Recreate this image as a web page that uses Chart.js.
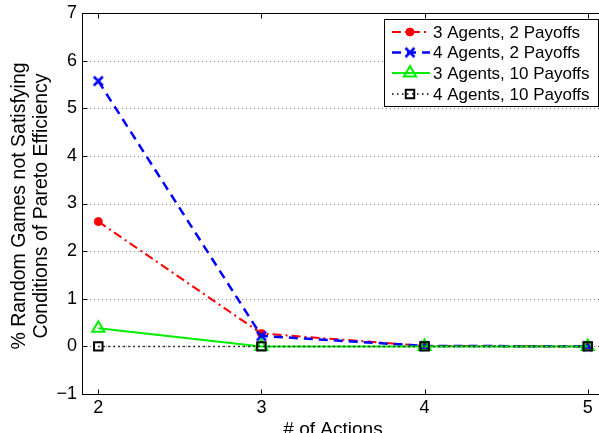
<!DOCTYPE html>
<html>
<head>
<meta charset="utf-8">
<script src="https://cdn.jsdelivr.net/npm/chart.js@4"></script>
<style>
  html, body { margin: 0; padding: 0; background: #fff; overflow: hidden; width: 599px; height: 433px; }
  #wrap { position: relative; width: 599px; height: 433px; overflow: hidden; }
  canvas { display: block; }
</style>
</head>
<body>
<div id="wrap"><canvas id="c" width="609" height="433"></canvas></div>
<script>
// Number of actions per player
const actions = [2, 3, 4, 5];
// % of random games not satisfying the Pareto-efficiency conditions
const agents3pay2  = [2.62, 0.27, 0.01, 0.0];
const agents4pay2  = [5.57, 0.22, 0.01, 0.0];
const agents3pay10 = [0.38, 0.0, 0.0, 0.0];
const agents4pay10 = [0.0, 0.0, 0.0, 0.0];
const seriesNames = ['3 Agents, 2 Payoffs', '4 Agents, 2 Payoffs', '3 Agents, 10 Payoffs', '4 Agents, 10 Payoffs'];
const yTicks = [-1, 0, 1, 2, 3, 4, 5, 6, 7];

const FONT = '"Liberation Sans", Arial, Helvetica, sans-serif';
// plot box runs past the right edge of the page
const PLOT_RIGHT = 604;

function pts(vals) { return actions.map((a, i) => ({ x: a, y: vals[i] })); }

// "x" marker glyph drawn onto a small canvas
function crossMarker(color) {
  const c = document.createElement('canvas'); c.width = 14; c.height = 14;
  const g = c.getContext('2d');
  g.strokeStyle = color; g.lineWidth = 2.6;
  g.beginPath(); g.moveTo(2.5, 2.5); g.lineTo(11.5, 11.5); g.moveTo(11.5, 2.5); g.lineTo(2.5, 11.5); g.stroke();
  return c;
}

const styles = [
  { color: '#ff0000', dash: [9, 4, 2, 4], width: 2, point: 'circle', radius: 4, fill: '#ff0000', pw: 1 },
  { color: '#0000ff', dash: [9, 6], width: 2.5, point: crossMarker('#0000ff'), radius: 6, fill: '#0000ff', pw: 1 },
  { color: '#00ee00', dash: [], width: 2, point: 'triangle', radius: 7, fill: 'rgba(0,0,0,0)', pw: 2 },
  { color: '#000000', dash: [1.5, 3.5], width: 1.5, point: 'rect', radius: 6, fill: 'rgba(0,0,0,0)', pw: 2 }
];
const seriesData = [agents3pay2, agents4pay2, agents3pay10, agents4pay10];

function makeDatasets() {
  return seriesData.map((vals, i) => ({
    label: seriesNames[i],
    data: pts(vals),
    borderColor: styles[i].color,
    backgroundColor: styles[i].fill,
    borderWidth: styles[i].width,
    borderDash: styles[i].dash,
    pointStyle: styles[i].point,
    pointRadius: styles[i].radius,
    pointBorderColor: styles[i].color,
    pointBackgroundColor: styles[i].fill,
    pointBorderWidth: styles[i].pw,
    tension: 0,
    fill: false,
    order: 4 - i
  }));
}

// Frame, dotted grid, inward ticks, axis titles and the legend box
const framePlugin = {
  id: 'frame',
  beforeDatasetsDraw(chart) {
    const { ctx, chartArea: a, scales: { y } } = chart;
    ctx.save();
    ctx.strokeStyle = '#888';
    ctx.lineWidth = 1;
    ctx.setLineDash([1, 3]);
    yTicks.forEach(v => {
      if (v === -1 || v === 7) return;
      const py = Math.round(y.getPixelForValue(v)) + 0.5;
      ctx.beginPath(); ctx.moveTo(a.left, py); ctx.lineTo(a.right, py); ctx.stroke();
    });
    ctx.restore();
  },
  afterDatasetsDraw(chart) {
    const { ctx, chartArea: a, scales: { x, y } } = chart;
    ctx.save();
    ctx.strokeStyle = '#000';
    ctx.lineWidth = 1;
    ctx.setLineDash([]);
    const L = Math.round(a.left) + 0.5, R = Math.round(a.right) - 0.5;
    const T = Math.round(a.top) + 0.5, B = Math.round(a.bottom) + 0.5;
    ctx.strokeRect(L, T, R - L, B - T);
    const tl = 5;
    ctx.beginPath();
    yTicks.forEach(v => {
      const py = Math.round(y.getPixelForValue(v)) + 0.5;
      ctx.moveTo(L, py); ctx.lineTo(L + tl, py);
      ctx.moveTo(R, py); ctx.lineTo(R - tl, py);
    });
    actions.forEach(v => {
      const px = Math.round(x.getPixelForValue(v)) + 0.5;
      ctx.moveTo(px, T); ctx.lineTo(px, T + tl);
      ctx.moveTo(px, B); ctx.lineTo(px, B - tl);
    });
    ctx.stroke();

    // axis titles
    ctx.fillStyle = '#000';
    ctx.font = '19px ' + FONT;
    ctx.textAlign = 'center';
    ctx.textBaseline = 'middle';
    ctx.fillText('# of Actions', 333, 430);
    ctx.save();
    ctx.translate(20, 206);
    ctx.rotate(-Math.PI / 2);
    ctx.font = '19.5px ' + FONT;
    ctx.fillText('% Random Games not Satisfying', 0, 0);
    ctx.fillText('Conditions of Pareto Efficiency', 0, 22);
    ctx.restore();

    // legend
    const bx = 384.5, by = 19.5, bw = 214, bh = 87;
    ctx.fillStyle = '#fff';
    ctx.fillRect(bx, by, bw, bh);
    ctx.strokeStyle = '#000';
    ctx.lineWidth = 1;
    ctx.strokeRect(bx, by, bw, bh);
    const rows = [32, 52.5, 73, 94];
    chart.data.datasets.forEach((ds, i) => {
      const st = styles[i];
      const ry = rows[i];
      ctx.save();
      ctx.strokeStyle = st.color;
      ctx.lineWidth = st.width;
      ctx.setLineDash(st.dash);
      ctx.beginPath(); ctx.moveTo(392, ry); ctx.lineTo(430, ry); ctx.stroke();
      ctx.setLineDash([]);
      ctx.fillStyle = st.fill;
      ctx.strokeStyle = st.color;
      ctx.lineWidth = st.pw;
      Chart.helpers.drawPoint(ctx, {
        pointStyle: st.point, radius: st.radius, rotation: 0, borderWidth: st.pw
      }, 410, ry);
      ctx.restore();
      ctx.fillStyle = '#000';
      ctx.font = '17px ' + FONT;
      ctx.textAlign = 'left';
      ctx.textBaseline = 'middle';
      ctx.fillText(ds.label, 433, ry + 1);
    });
    ctx.restore();
  }
};

function makeConfig() {
  return {
    type: 'line',
    data: { datasets: makeDatasets() },
    options: {
      responsive: false,
      devicePixelRatio: 1,
      animation: false,
      layout: { padding: { left: 0, top: 13, right: 0, bottom: 0 } },
      plugins: { legend: { display: false }, tooltip: { enabled: false } },
      scales: {
        x: {
          type: 'linear', min: 1.9, max: 5.1,
          grid: { display: false, drawTicks: false },
          border: { display: false },
          afterBuildTicks: s => { s.ticks = actions.map(v => ({ value: v })); },
          afterFit: s => { s.height = 39; s.paddingLeft = 0; s.paddingRight = 0; },
          ticks: { color: '#000', padding: 3, maxRotation: 0, font: { family: FONT, size: 18 }, callback: v => String(v) }
        },
        y: {
          type: 'linear', min: -1, max: 7,
          grid: { display: false, drawTicks: false },
          border: { display: false },
          afterBuildTicks: s => { s.ticks = yTicks.map(v => ({ value: v })); },
          afterFit: s => { s.width = 82; s.paddingTop = 0; s.paddingBottom = 0; },
          ticks: { color: '#000', padding: 5, font: { family: FONT, size: 18 },
                   callback: v => v < 0 ? '\u2212' + Math.abs(v) : String(v) }
        }
      }
    },
    plugins: [framePlugin]
  };
}

const canvas = document.getElementById('c');
function build(w) {
  canvas.width = w;
  canvas.height = 433;
  canvas.style.width = w + 'px';
  canvas.style.height = '433px';
  return new Chart(canvas, makeConfig());
}

let chart = build(609);
// widen the canvas until the plot box ends at PLOT_RIGHT
try {
  for (let k = 0; k < 3; k++) {
    const d = PLOT_RIGHT - chart.chartArea.right;
    if (Math.abs(d) < 0.5) break;
    const w = chart.width + Math.round(d);
    chart.destroy();
    chart = build(w);
  }
} catch (e) {
  if (!Chart.getChart(canvas)) chart = build(609);
}
</script>
</body>
</html>
